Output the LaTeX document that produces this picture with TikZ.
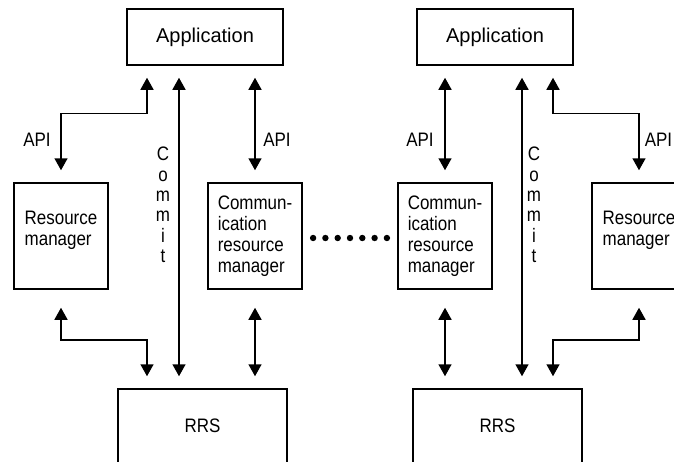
\documentclass[tikz,border=0pt]{standalone}
\usepackage{fontspec}
\setmainfont{Liberation Sans}
\newfontfamily\narrowsf{Liberation Sans}[FakeStretch=0.87]
\usetikzlibrary{arrows.meta, positioning, calc}

\begin{document}
\begin{tikzpicture}[x=0.5pt, y=-0.5pt, line width=0.75pt,
                        box/.style={draw, inner sep=0pt, align=left, font=\narrowsf\fontsize{9.75}{10.5}\selectfont},
                        appbox/.style={box, minimum width=78pt, minimum height=28pt, align=center, font=\fontsize{10}{12}\selectfont},
                        mgr/.style={box, minimum width=47pt, minimum height=53pt},
                        rrs/.style={box, minimum width=84.5pt, minimum height=37pt},
                        lbl/.style={inner sep=0pt, align=center, font=\narrowsf\fontsize{9.75}{10.2}\selectfont},
                        arr/.style={{Triangle[length=6pt,width=6.5pt]}-{Triangle[length=6pt,width=6.5pt]}, shorten <=6pt, shorten >=6pt}]
        \useasboundingbox (0,0) rectangle (674,461);
        \clip (0,0) rectangle (674,461);
        \node[appbox] (appL) at (205,37) {Application};
        \node[appbox] (appR) at (495,37) {Application};
        \node[mgr] (rmL)  at (61,236)  {Resource\\manager\\[-3pt]\mbox{}};
        \node[mgr] (crmL) at (255,236) {Commun-\\ication\\resource\\manager};
        \node[mgr] (crmR) at (445,236) {Commun-\\ication\\resource\\manager};
        \node[mgr] (rmR)  at (639,236) {Resource\\manager\\[-3pt]\mbox{}};
        \node[rrs] (rrsL) at (202.5,426) {RRS};
        \node[rrs] (rrsR) at (497.5,426) {RRS};
        \coordinate (elL) at ([xshift=-29pt]appL.south);
        \coordinate (cmL) at ([xshift=-13pt]appL.south);
        \coordinate (elR) at ([xshift=29pt]appR.south);
        \coordinate (cmR) at ([xshift=13.5pt]appR.south);
        \node[lbl] (apiL)  at (37,140)  {API};
        \node[lbl] (apiCL) at (277,140) {API};
        \node[lbl] (apiCR) at (420,140) {API};
        \node[lbl] (apiR)  at (658.5,140) {API};
        \node[lbl] (comL) at (163,205) {C\\o\\m\\m\\i\\t};
        \node[lbl] (comR) at (534,205) {C\\o\\m\\m\\i\\t};
        % left half
        \draw[arr] (elL) |- ($(rmL.north)+(0,-69)$) -- (rmL.north);
        \draw[arr] (cmL) -- (cmL |- rrsL.north);
        \draw[arr] (crmL.north |- appL.south) -- (crmL.north);
        \draw[arr, shorten <=9pt] (rmL.south) -- ++(0,50) -| (elL |- rrsL.north);
        \draw[arr, shorten <=9pt] (crmL.south) -- (crmL.south |- rrsL.north);
        % right half
        \draw[arr] (elR) |- ($(rmR.north)+(0,-69)$) -- (rmR.north);
        \draw[arr] (cmR) -- (cmR |- rrsR.north);
        \draw[arr] (crmR.north |- appR.south) -- (crmR.north);
        \draw[arr, shorten <=9pt] (rmR.south) -- ++(0,50) -| (elR |- rrsR.north);
        \draw[arr, shorten <=9pt] (crmR.south) -- (crmR.south |- rrsR.north);
        % dots between the two halves
        \foreach \i in {-3,...,3}
          \fill ($(crmL.east)!0.5!(crmR.west)+(12.3*\i,2)$) circle (1.6pt);
    \end{tikzpicture}
\end{document}
